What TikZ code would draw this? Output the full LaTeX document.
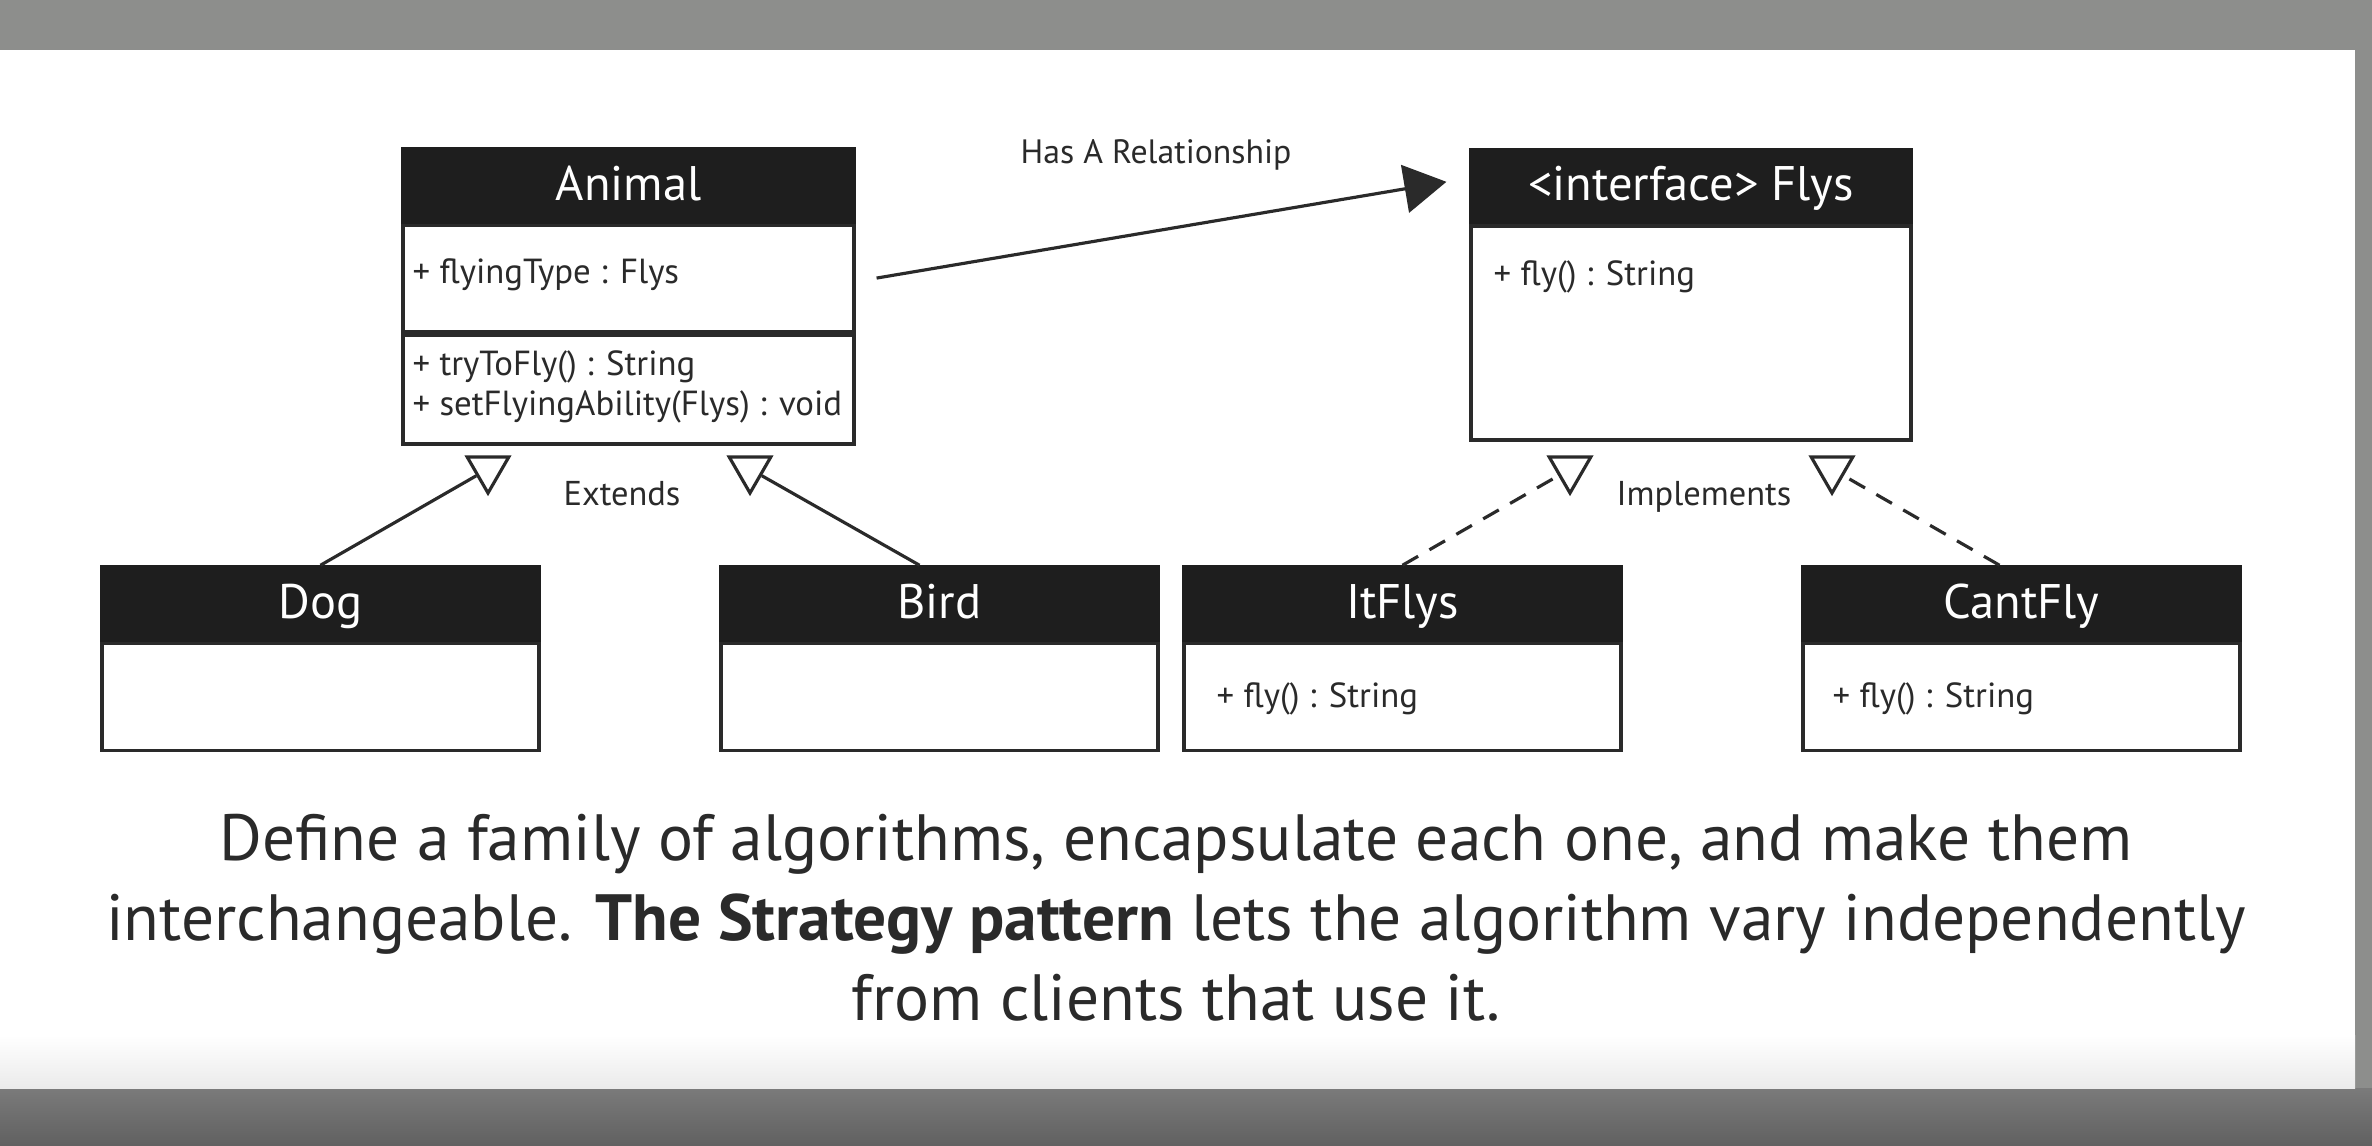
\documentclass[tikz,border=0pt]{standalone}
\usepackage{fontspec}
\setmainfont{PT Sans}
\usetikzlibrary{arrows.meta,shapes.geometric}

\definecolor{framegray}{HTML}{8D8E8C}
\definecolor{headblack}{HTML}{1E1E1E}
\definecolor{inkgray}{HTML}{2A2A2A}

\begin{document}
\begin{tikzpicture}[
				x=0.01cm, y=-0.01cm,
				head style/.style={
					draw=headblack,
					fill=headblack,
					text=white,
					line width=1pt,
					inner sep=0pt,
					text height=0.51cm,
					text depth=0.22cm,
					font=\fontsize{13.8}{16}\selectfont
				},
				body style/.style={
					draw=inkgray,
					fill=white,
					line width=1pt,
					inner sep=0pt,
					anchor=north
				},
				member style/.style={
					anchor=base west,
					inner sep=0pt,
					text=inkgray,
					font=\fontsize{9.9}{11}\selectfont
				},
				label style/.style={
					anchor=base,
					inner sep=0pt,
					text=inkgray,
					font=\fontsize{9.8}{11}\selectfont
				},
				tip style/.style={
					regular polygon,
					regular polygon sides=3,
					shape border rotate=180,
					draw=inkgray,
					fill=white,
					line width=0.9pt,
					inner sep=0pt,
					minimum size=0.48cm
				},
				link/.style={draw=inkgray, line width=0.9pt},
				>={Triangle[length=0.42cm, width=0.48cm]}
				]
				
				\useasboundingbox (0,0) rectangle (2372,1145);
				\fill[framegray] (0,0) rectangle (2372,1145);
				\shade[top color=black!52, bottom color=black!62] (0,1088) rectangle (2372,1145);
				\fill[white] (0,50) rectangle (2355,1088);
				\shade[top color=white, bottom color=black!8] (0,1035) rectangle (2355,1088);
				
				\node[head style, minimum width=4.51cm] (animal) at (628.5,185.5) {Animal};
				\node[body style, minimum width=4.51cm, minimum height=1.06cm] (animalattr) at (animal.south) {};
				\node[body style, minimum width=4.51cm, minimum height=1.09cm] (animalops) at (animalattr.south) {};
				\node[member style] (flyingtype) at (412,283) {+ flyingType : Flys};
				\node[member style] (trytofly) at (412,375) {+ tryToFly() : String};
				\node[member style] (setflying) at (412,415) {+ setFlyingAbility(Flys) : void};
				
				\node[head style, minimum width=4.40cm] (flys) at (1691,186) {<interface> Flys};
				\node[body style, minimum width=4.40cm, minimum height=2.14cm] (flysbody) at (flys.south) {};
				\node[member style] (flysfly) at (1493,285) {+ fly() : String};
				
				\node[head style, minimum width=4.37cm] (dog) at (320.5,603.5) {Dog};
				\node[body style, minimum width=4.37cm, minimum height=1.07cm] (dogbody) at (dog.south) {};
				
				\node[head style, minimum width=4.37cm] (bird) at (939.5,603.5) {Bird};
				\node[body style, minimum width=4.37cm, minimum height=1.07cm] (birdbody) at (bird.south) {};
				
				\node[head style, minimum width=4.37cm] (itflys) at (1402.5,603.5) {ItFlys};
				\node[body style, minimum width=4.37cm, minimum height=1.07cm] (itflysbody) at (itflys.south) {};
				\node[member style] (itflysfly) at (1216,707) {+ fly() : String};
				
				\node[head style, minimum width=4.37cm] (cantfly) at (2021.5,603.5) {CantFly};
				\node[body style, minimum width=4.37cm, minimum height=1.07cm] (cantflybody) at (cantfly.south) {};
				\node[member style] (cantflyfly) at (1832,707) {+ fly() : String};
				
				\node[tip style] (dogtip) at (488,469) {};
				\node[tip style] (birdtip) at (750,469) {};
				\node[tip style] (itflystip) at (1570,469) {};
				\node[tip style] (cantflytip) at (1832,469) {};
				
				\node[label style, font=\fontsize{9.6}{11}\selectfont] (hasa) at (1156,163) {Has A Relationship};
				\node[label style] (extends) at (622,505) {Extends};
				\node[label style] (implements) at (1704,505) {Implements};
				
				\draw[link, ->, shorten <=0.21cm, shorten >=0.23cm] ([yshift=-0.03cm]animalattr.east) -- ([yshift=0.08cm]flys.west);
				\draw[link] (dog.north) -- (dogtip);
				\draw[link] ([xshift=-0.2cm]bird.north) -- (birdtip);
				\draw[link, dash pattern=on 0.18cm off 0.13cm] (itflys.north) -- (itflystip);
				\draw[link, dash pattern=on 0.18cm off 0.13cm] ([xshift=-0.22cm]cantfly.north) -- (cantflytip);
				
				\node[anchor=north, align=center, inner sep=0pt, text=inkgray,
					font=\fontsize{18.6}{22.76}\selectfont] (definition) at (1176,813)
				{Define a family of algorithms, encapsulate each one, and make them\\
					interchangeable. \textbf{The Strategy pattern} lets the algorithm vary independently\\
					from clients that use it.};
				
			\end{tikzpicture}
\end{document}
